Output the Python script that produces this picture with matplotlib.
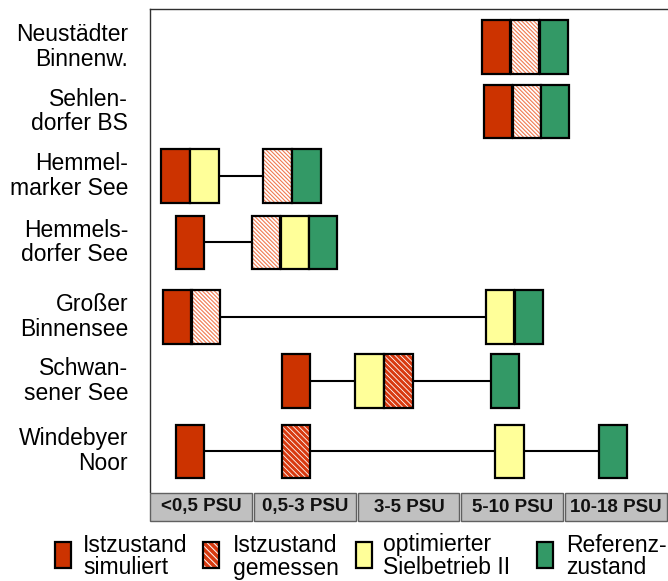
import matplotlib
matplotlib.use('Agg')
import matplotlib.pyplot as plt
from matplotlib.patches import Rectangle

plt.rcParams['font.family'] = ['Liberation Sans', 'DejaVu Sans']

# Seen und Salzgehaltsklassen
lakes = ['Neustädter\nBinnenw.', 'Sehlen-\ndorfer BS', 'Hemmel-\nmarker See',
         'Hemmels-\ndorfer See', 'Großer\nBinnensee', 'Schwan-\nsener See',
         'Windebyer\nNoor']
classes = ['<0,5 PSU', '0,5-3 PSU', '3-5 PSU', '5-10 PSU', '10-18 PSU']

# Zustände je See (sim = Istzustand simuliert, mes = Istzustand gemessen,
# opt = optimierter Sielbetrieb II, ref = Referenzzustand)
states = [
    ['sim', 'mes', 'ref'],
    ['sim', 'mes', 'ref'],
    ['sim', 'opt', 'mes', 'ref'],
    ['sim', 'mes', 'opt', 'ref'],
    ['sim', 'mes', 'opt', 'ref'],
    ['sim', 'opt', 'mes', 'ref'],
    ['sim', 'mes', 'opt', 'ref'],
]
# Lage auf der Salzgehaltsachse (1 Einheit = 1 Klasse, 0 = linker Rand)
pos = [
    [3.20, 3.48, 3.76],
    [3.22, 3.50, 3.77],
    [0.11, 0.39, 1.09, 1.37],
    [0.25, 0.98, 1.26, 1.53],
    [0.13, 0.40, 3.24, 3.52],
    [1.27, 1.98, 2.26, 3.29],
    [0.25, 1.27, 3.33, 4.33],
]

legend_labels = ['Istzustand\nsimuliert', 'Istzustand\ngemessen',
                 'optimierter\nSielbetrieb II', 'Referenz-\nzustand']
legend_states = ['sim', 'mes', 'opt', 'ref']

# Layout / Stil
row_y = [0, 1.0, 2.0, 3.03, 4.19, 5.18, 6.27]
box_w = 0.276
box_h = 0.83
dense = [False, False, False, False, False, True, True]
colors = {'sim': '#CC3300', 'opt': '#FFFF99', 'ref': '#339966'}


def stripes(ax, x0, y0, w, h, color, lw, step):
    # weiße Fläche mit diagonalen Streifen (von links oben nach rechts unten)
    rect = Rectangle((x0, y0), w, h, facecolor='white', edgecolor='none', zorder=2)
    ax.add_patch(rect)
    (ax0, ay0), (ax1, ay1) = ax.transData.transform([(0, 0), (1, 1)])
    sx = abs(ax1 - ax0)
    sy = abs(ay1 - ay0)
    W = w * sx
    H = h * sy
    c = -H
    while c < W + step:
        ln, = ax.plot([x0 + c / sx, x0 + (c + H) / sx], [y0, y0 + h],
                      color=color, lw=lw, solid_capstyle='butt', zorder=3)
        ln.set_clip_path(rect)
        c += step


def draw_box(ax, x0, y0, w, h, state, heavy, edge_lw=1.6):
    if state == 'mes':
        if heavy:
            stripes(ax, x0, y0, w, h, '#D83A10', 2.2, 5.5)
        else:
            stripes(ax, x0, y0, w, h, '#F07A50', 0.8, 4.0)
        ax.add_patch(Rectangle((x0, y0), w, h, facecolor='none',
                               edgecolor='black', lw=edge_lw, zorder=4))
    else:
        ax.add_patch(Rectangle((x0, y0), w, h, facecolor=colors[state],
                               edgecolor='black', lw=edge_lw, zorder=4))


fig = plt.figure(figsize=(6.68, 5.81), dpi=100)

# Hauptachse
ax = fig.add_axes([150 / 668, (581 - 492) / 581, 518 / 668, (492 - 9) / 581])
ax.set_xlim(0, 5)
ax.set_ylim(6.90, -0.59)
for s in ['right', 'bottom']:
    ax.spines[s].set_visible(False)
for s in ['left', 'top']:
    ax.spines[s].set_color('#303030')
    ax.spines[s].set_linewidth(1.0)
ax.set_xticks([])
ax.set_yticks(row_y)
ax.set_yticklabels(lakes, fontsize=16.5)
ax.tick_params(axis='y', length=0, pad=15.8)
for lab in ax.get_yticklabels():
    lab.set_va('center')
    lab.set_linespacing(1.1)

for i in range(len(lakes)):
    xs = pos[i]
    yc = row_y[i]
    # Verbindungslinien zwischen nicht anliegenden Kästchen
    for j in range(len(xs) - 1):
        right = xs[j] + box_w
        if xs[j + 1] - right > 0.02:
            ax.plot([right, xs[j + 1]], [yc, yc], color='black', lw=1.5, zorder=1)
    for st, x in zip(states[i], xs):
        draw_box(ax, x, yc - box_h / 2, box_w, box_h, st, dense[i])

# Salzgehaltsklassen
cax = fig.add_axes([150 / 668, (581 - 522) / 581, 518 / 668, 30 / 581])
cax.set_xlim(0, 5)
cax.set_ylim(0, 1)
cax.axis('off')
for i, c in enumerate(classes):
    x0 = i + (0.0 if i == 0 else 0.006)
    cax.add_patch(Rectangle((x0, 0.02), 0.986 - (x0 - i), 0.96, facecolor='#C0C0C0',
                            edgecolor='#606060', lw=1.0, clip_on=False))
    cax.text(i + 0.5, 0.5, c, ha='center', va='center', fontsize=13.5,
             fontweight='bold', color='#111111')

# Legende
lax = fig.add_axes([0, 0, 1, 51 / 581])
lax.set_xlim(0, 668)
lax.set_ylim(581, 530)
lax.axis('off')
patch_x = [55, 203, 356, 537]
text_x = [83, 233, 383, 566]
for px, tx, st, lab in zip(patch_x, text_x, legend_states, legend_labels):
    if st == 'mes':
        stripes(lax, px, 542, 16, 26, '#D83A10', 2.6, 6.5)
        lax.add_patch(Rectangle((px, 542), 16, 26, facecolor='none',
                                edgecolor='black', lw=1.6, zorder=4))
    else:
        draw_box(lax, px, 542, 16, 26, st, False)
    lax.text(tx, 556.5, lab, ha='left', va='center', fontsize=16.5,
             linespacing=1.0, color='black')

fig.savefig('out.png', dpi=100)
